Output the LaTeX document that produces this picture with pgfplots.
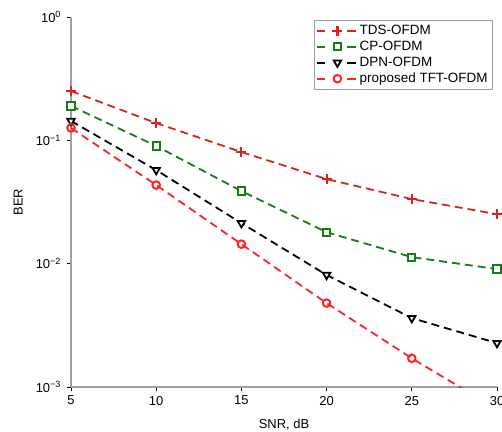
\documentclass[border=0pt]{standalone}
\usepackage{fontspec}
\setmainfont{Liberation Sans}
\usepackage{pgfplots}
\pgfplotsset{compat=1.18}
\definecolor{tdsred}{RGB}{218,35,30}
\definecolor{cpgreen}{RGB}{20,125,20}
\definecolor{tftred}{RGB}{255,35,40}
\definecolor{axgray}{RGB}{160,160,160}
\begin{document}
\begin{tikzpicture}
\begin{axis}[
  name=ax,
  scale only axis, width=426bp, height=370bp,
  ymode=log, xmin=5, xmax=30, ymin=1e-3, ymax=1,
  axis x line*=bottom, axis y line*=left,
  axis line style={axgray, line width=1.5pt},
  xtick={5,10,...,30}, ytick={1e-3,1e-2,1e-1,1},
  yticklabels={10\textsuperscript{−3},10\textsuperscript{−2},10\textsuperscript{−1},10\textsuperscript{0}},
  yminorticks=false, xminorticks=false,
  tick style={black, line width=0.8pt}, tick align=outside, major tick length=4.5pt,
  /pgf/number format/assume math mode=true,
  tick label style={font=\fontsize{13}{15}\selectfont},
  xticklabel style={yshift=-1pt},
  yticklabel style={xshift=-2pt},
  label style={font=\fontsize{13}{15}\selectfont},
  xlabel={SNR, dB}, ylabel={BER},
  xlabel style={at={(axis description cs:0.5,-0.103)}, anchor=center},
  ylabel style={at={(axis description cs:-0.124,0.5)}, anchor=center, rotate=0},
  legend style={at={(1,1)}, anchor=north east, xshift=-4pt, yshift=-3pt,
    draw=axgray, line width=1pt, font=\fontsize{13.5}{16}\selectfont,
    row sep=0pt, inner sep=2.5pt, nodes={inner sep=2.5pt}},
  legend cell align=left,
  legend image code/.code={
    \draw[#1,solid] (0pt,0pt) -- (8pt,0pt);
    \draw[#1,solid] (30pt,0pt) -- (39pt,0pt);
    \draw[#1,solid] plot coordinates {(20pt,0pt)};
  },
  every axis plot/.append style={line width=1.8pt, dash pattern=on 8pt off 5pt},
]
\addplot[color=tdsred, mark=+, mark size=5pt, mark options={solid, line width=2.2pt}]
  coordinates {(5,0.251)(10,0.138)(15,0.0804)(20,0.0485)(25,0.0334)(30,0.0252)};
\addlegendentry{TDS-OFDM}
\addplot[color=cpgreen, mark=square*, mark size=3.6pt, mark options={solid, line width=2pt, fill=white}]
  coordinates {(5,0.19)(10,0.090)(15,0.0388)(20,0.018)(25,0.0113)(30,0.00904)};
\addlegendentry{CP-OFDM}
\addplot[color=black, mark=triangle*, mark size=4.3pt, mark options={solid, rotate=180, line width=1.8pt, fill=white}]
  coordinates {(5,0.1435)(10,0.0574)(15,0.0213)(20,0.0081)(25,0.00362)(30,0.00227)};
\addlegendentry{DPN-OFDM}
\addplot[color=tftred, mark=o, mark size=3.8pt, mark indices={1,2,3,4,5}, mark options={solid, line width=2pt}]
  coordinates {(5,0.126)(10,0.0434)(15,0.0144)(20,0.00479)(25,0.00171)(30,0.00066)};
\addlegendentry{proposed TFT-OFDM}
\end{axis}
\pgfresetboundingbox
\path[use as bounding box] ([xshift=-71bp,yshift=-45bp]ax.south west) rectangle ([xshift=5bp,yshift=17bp]ax.north east);
\end{tikzpicture}
\end{document}
